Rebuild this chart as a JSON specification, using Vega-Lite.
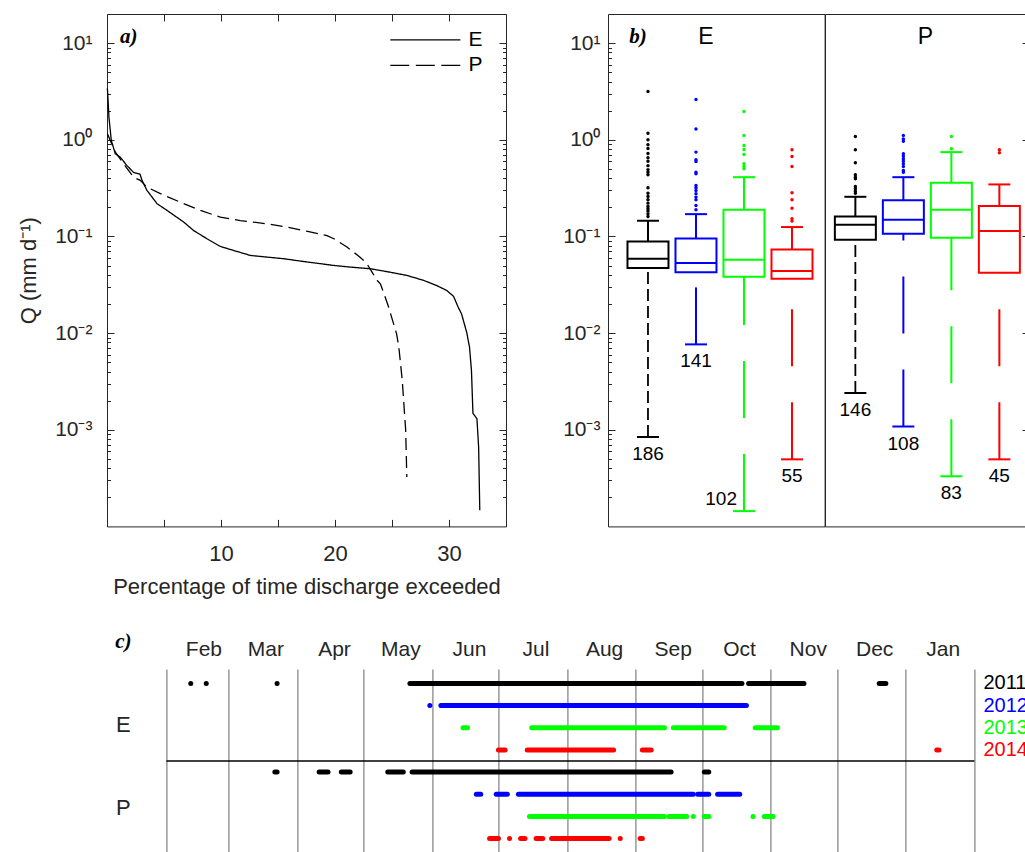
{
  "$schema": "https://vega.github.io/schema/vega-lite/v6.json",
  "padding": {"left": 17, "top": 13, "right": 0, "bottom": 0},
  "config": {
    "view": {"stroke": "#262626", "strokeWidth": 1},
    "tick": {"opacity": 1},
    "axis": {"labelFont": "Liberation Sans", "titleFont": "Liberation Sans", "labelColor": "#262626", "titleColor": "#262626", "tickColor": "#262626", "domain": false, "grid": false, "tickWidth": 1, "labelOverlap": false, "labelFlush": false, "labelBound": false, "titleFontWeight": "normal"},
    "text": {"font": "Liberation Sans", "color": "#262626"}
  },
  "datasets": {
    "fdc": [
      {"site": "E", "pct": 0.02, "q": 3.4}, {"site": "E", "pct": 0.05, "q": 3.2}, {"site": "E", "pct": 0.17, "q": 1.71}, {"site": "E", "pct": 0.38, "q": 0.98}, {"site": "E", "pct": 0.73, "q": 0.716}, {"site": "E", "pct": 1.17, "q": 0.66}, {"site": "E", "pct": 1.75, "q": 0.54}, {"site": "E", "pct": 2.33, "q": 0.46}, {"site": "E", "pct": 2.9, "q": 0.44}, {"site": "E", "pct": 3.07, "q": 0.38}, {"site": "E", "pct": 3.5, "q": 0.3}, {"site": "E", "pct": 4.39, "q": 0.218}, {"site": "E", "pct": 5.26, "q": 0.186}, {"site": "E", "pct": 6.72, "q": 0.141}, {"site": "E", "pct": 7.6, "q": 0.115}, {"site": "E", "pct": 8.77, "q": 0.0946}, {"site": "E", "pct": 9.94, "q": 0.0788}, {"site": "E", "pct": 11.1, "q": 0.0716}, {"site": "E", "pct": 12.57, "q": 0.0636}, {"site": "E", "pct": 14.04, "q": 0.0611}, {"site": "E", "pct": 15.5, "q": 0.0588}, {"site": "E", "pct": 16.96, "q": 0.0556}, {"site": "E", "pct": 19.88, "q": 0.0501}, {"site": "E", "pct": 21.3, "q": 0.0482}, {"site": "E", "pct": 23.1, "q": 0.0463}, {"site": "E", "pct": 24.8, "q": 0.0427}, {"site": "E", "pct": 26.3, "q": 0.0395}, {"site": "E", "pct": 27.77, "q": 0.0351}, {"site": "E", "pct": 28.9, "q": 0.0311}, {"site": "E", "pct": 29.8, "q": 0.0276}, {"site": "E", "pct": 30.4, "q": 0.024}, {"site": "E", "pct": 30.8, "q": 0.0186}, {"site": "E", "pct": 31.1, "q": 0.0158}, {"site": "E", "pct": 31.55, "q": 0.0102}, {"site": "E", "pct": 31.8, "q": 0.00716}, {"site": "E", "pct": 31.97, "q": 0.0041}, {"site": "E", "pct": 32.1, "q": 0.00148}, {"site": "E", "pct": 32.45, "q": 0.0013}, {"site": "E", "pct": 32.6, "q": 0.00066}, {"site": "E", "pct": 32.7, "q": 0.000147},
      {"site": "P", "pct": 0.05, "q": 1.15}, {"site": "P", "pct": 0.29, "q": 0.98}, {"site": "P", "pct": 0.73, "q": 0.745}, {"site": "P", "pct": 1.46, "q": 0.565}, {"site": "P", "pct": 2.33, "q": 0.41}, {"site": "P", "pct": 2.92, "q": 0.38}, {"site": "P", "pct": 3.5, "q": 0.324}, {"site": "P", "pct": 4.68, "q": 0.277}, {"site": "P", "pct": 6.43, "q": 0.226}, {"site": "P", "pct": 8.2, "q": 0.186}, {"site": "P", "pct": 9.94, "q": 0.158}, {"site": "P", "pct": 11.7, "q": 0.146}, {"site": "P", "pct": 14.04, "q": 0.135}, {"site": "P", "pct": 15.8, "q": 0.125}, {"site": "P", "pct": 17.5, "q": 0.1135}, {"site": "P", "pct": 19.3, "q": 0.102}, {"site": "P", "pct": 19.9, "q": 0.0946}, {"site": "P", "pct": 21.05, "q": 0.0776}, {"site": "P", "pct": 22.2, "q": 0.061}, {"site": "P", "pct": 22.8, "q": 0.0522}, {"site": "P", "pct": 23.25, "q": 0.0427}, {"site": "P", "pct": 23.7, "q": 0.035}, {"site": "P", "pct": 23.98, "q": 0.0324}, {"site": "P", "pct": 24.4, "q": 0.0236}, {"site": "P", "pct": 24.7, "q": 0.0186}, {"site": "P", "pct": 25.4, "q": 0.00986}, {"site": "P", "pct": 25.6, "q": 0.00716}, {"site": "P", "pct": 25.9, "q": 0.00324}, {"site": "P", "pct": 26.2, "q": 0.00099}, {"site": "P", "pct": 26.3, "q": 0.000324}
    ],
    "boxes": [
      {"site": "E", "year": "2011", "lo": 0.00084, "q1": 0.047, "med": 0.0588, "q3": 0.0887, "hi": 0.145, "n": 186},
      {"site": "E", "year": "2012", "lo": 0.00764, "q1": 0.0427, "med": 0.053, "q3": 0.0953, "hi": 0.17, "n": 141},
      {"site": "E", "year": "2013", "lo": 0.000144, "q1": 0.0383, "med": 0.0574, "q3": 0.189, "hi": 0.41, "n": 102},
      {"site": "E", "year": "2014", "lo": 0.000494, "q1": 0.0365, "med": 0.0438, "q3": 0.0734, "hi": 0.125, "n": 55},
      {"site": "P", "year": "2011", "lo": 0.0024, "q1": 0.0925, "med": 0.132, "q3": 0.161, "hi": 0.257, "n": 146},
      {"site": "P", "year": "2012", "lo": 0.00108, "q1": 0.1066, "med": 0.149, "q3": 0.237, "hi": 0.41, "n": 108},
      {"site": "P", "year": "2013", "lo": 0.00033, "q1": 0.097, "med": 0.189, "q3": 0.359, "hi": 0.745, "n": 83},
      {"site": "P", "year": "2014", "lo": 0.000494, "q1": 0.0421, "med": 0.1135, "q3": 0.206, "hi": 0.345, "n": 45}
    ],
    "outliers": [
      {"site": "E", "year": "2011", "q": 3.16}, {"site": "E", "year": "2011", "q": 1.17}, {"site": "E", "year": "2011", "q": 1.0}, {"site": "E", "year": "2011", "q": 0.89}, {"site": "E", "year": "2011", "q": 0.81}, {"site": "E", "year": "2011", "q": 0.72}, {"site": "E", "year": "2011", "q": 0.65}, {"site": "E", "year": "2011", "q": 0.6}, {"site": "E", "year": "2011", "q": 0.54}, {"site": "E", "year": "2011", "q": 0.49}, {"site": "E", "year": "2011", "q": 0.46}, {"site": "E", "year": "2011", "q": 0.435}, {"site": "E", "year": "2011", "q": 0.319}, {"site": "E", "year": "2011", "q": 0.28}, {"site": "E", "year": "2011", "q": 0.259}, {"site": "E", "year": "2011", "q": 0.24}, {"site": "E", "year": "2011", "q": 0.221}, {"site": "E", "year": "2011", "q": 0.204}, {"site": "E", "year": "2011", "q": 0.193}, {"site": "E", "year": "2011", "q": 0.183}, {"site": "E", "year": "2011", "q": 0.172}, {"site": "E", "year": "2011", "q": 0.161},
      {"site": "E", "year": "2012", "q": 2.61}, {"site": "E", "year": "2012", "q": 1.29}, {"site": "E", "year": "2012", "q": 0.745}, {"site": "E", "year": "2012", "q": 0.621}, {"site": "E", "year": "2012", "q": 0.597}, {"site": "E", "year": "2012", "q": 0.462}, {"site": "E", "year": "2012", "q": 0.445}, {"site": "E", "year": "2012", "q": 0.337}, {"site": "E", "year": "2012", "q": 0.319}, {"site": "E", "year": "2012", "q": 0.299}, {"site": "E", "year": "2012", "q": 0.276}, {"site": "E", "year": "2012", "q": 0.255}, {"site": "E", "year": "2012", "q": 0.24}, {"site": "E", "year": "2012", "q": 0.209}, {"site": "E", "year": "2012", "q": 0.189},
      {"site": "E", "year": "2013", "q": 1.96}, {"site": "E", "year": "2013", "q": 1.11}, {"site": "E", "year": "2013", "q": 0.873}, {"site": "E", "year": "2013", "q": 0.794}, {"site": "E", "year": "2013", "q": 0.705}, {"site": "E", "year": "2013", "q": 0.565}, {"site": "E", "year": "2013", "q": 0.53}, {"site": "E", "year": "2013", "q": 0.5},
      {"site": "E", "year": "2014", "q": 0.788}, {"site": "E", "year": "2014", "q": 0.672}, {"site": "E", "year": "2014", "q": 0.53}, {"site": "E", "year": "2014", "q": 0.283}, {"site": "E", "year": "2014", "q": 0.24}, {"site": "E", "year": "2014", "q": 0.196}, {"site": "E", "year": "2014", "q": 0.152}, {"site": "E", "year": "2014", "q": 0.144},
      {"site": "P", "year": "2011", "q": 1.08}, {"site": "P", "year": "2011", "q": 0.788}, {"site": "P", "year": "2011", "q": 0.578}, {"site": "P", "year": "2011", "q": 0.435}, {"site": "P", "year": "2011", "q": 0.41}, {"site": "P", "year": "2011", "q": 0.395}, {"site": "P", "year": "2011", "q": 0.329}, {"site": "P", "year": "2011", "q": 0.311}, {"site": "P", "year": "2011", "q": 0.294}, {"site": "P", "year": "2011", "q": 0.28},
      {"site": "P", "year": "2012", "q": 1.11}, {"site": "P", "year": "2012", "q": 1.02}, {"site": "P", "year": "2012", "q": 0.967}, {"site": "P", "year": "2012", "q": 0.716}, {"site": "P", "year": "2012", "q": 0.676}, {"site": "P", "year": "2012", "q": 0.636}, {"site": "P", "year": "2012", "q": 0.601}, {"site": "P", "year": "2012", "q": 0.565}, {"site": "P", "year": "2012", "q": 0.53}, {"site": "P", "year": "2012", "q": 0.482}, {"site": "P", "year": "2012", "q": 0.462},
      {"site": "P", "year": "2013", "q": 1.08}, {"site": "P", "year": "2013", "q": 0.807},
      {"site": "P", "year": "2014", "q": 0.788}, {"site": "P", "year": "2014", "q": 0.734}
    ],
    "flow": [
      {"site": "E", "year": "2011", "track": "E 2011", "start": "2011-02-12", "end": "2011-02-12"},
      {"site": "E", "year": "2011", "track": "E 2011", "start": "2011-02-19", "end": "2011-02-19"},
      {"site": "E", "year": "2011", "track": "E 2011", "start": "2011-03-23", "end": "2011-03-23"},
      {"site": "E", "year": "2011", "track": "E 2011", "start": "2011-05-22", "end": "2011-10-19"},
      {"site": "E", "year": "2011", "track": "E 2011", "start": "2011-10-22", "end": "2011-11-16"},
      {"site": "E", "year": "2011", "track": "E 2011", "start": "2011-12-20", "end": "2011-12-23"},
      {"site": "E", "year": "2012", "track": "E 2012", "start": "2011-05-31", "end": "2011-05-31"},
      {"site": "E", "year": "2012", "track": "E 2012", "start": "2011-06-05", "end": "2011-10-21"},
      {"site": "E", "year": "2013", "track": "E 2013", "start": "2011-06-15", "end": "2011-06-17"},
      {"site": "E", "year": "2013", "track": "E 2013", "start": "2011-07-16", "end": "2011-09-14"},
      {"site": "E", "year": "2013", "track": "E 2013", "start": "2011-09-18", "end": "2011-10-11"},
      {"site": "E", "year": "2013", "track": "E 2013", "start": "2011-10-25", "end": "2011-11-04"},
      {"site": "E", "year": "2014", "track": "E 2014", "start": "2011-07-01", "end": "2011-07-04"},
      {"site": "E", "year": "2014", "track": "E 2014", "start": "2011-07-14", "end": "2011-08-22"},
      {"site": "E", "year": "2014", "track": "E 2014", "start": "2011-09-04", "end": "2011-09-08"},
      {"site": "E", "year": "2014", "track": "E 2014", "start": "2012-01-15", "end": "2012-01-16"},
      {"site": "P", "year": "2011", "track": "P 2011", "start": "2011-03-22", "end": "2011-03-23"},
      {"site": "P", "year": "2011", "track": "P 2011", "start": "2011-04-11", "end": "2011-04-15"},
      {"site": "P", "year": "2011", "track": "P 2011", "start": "2011-04-21", "end": "2011-04-25"},
      {"site": "P", "year": "2011", "track": "P 2011", "start": "2011-05-12", "end": "2011-05-19"},
      {"site": "P", "year": "2011", "track": "P 2011", "start": "2011-05-23", "end": "2011-09-17"},
      {"site": "P", "year": "2011", "track": "P 2011", "start": "2011-10-02", "end": "2011-10-04"},
      {"site": "P", "year": "2012", "track": "P 2012", "start": "2011-06-21", "end": "2011-06-23"},
      {"site": "P", "year": "2012", "track": "P 2012", "start": "2011-06-30", "end": "2011-07-05"},
      {"site": "P", "year": "2012", "track": "P 2012", "start": "2011-07-10", "end": "2011-09-27"},
      {"site": "P", "year": "2012", "track": "P 2012", "start": "2011-09-29", "end": "2011-10-04"},
      {"site": "P", "year": "2012", "track": "P 2012", "start": "2011-10-08", "end": "2011-10-18"},
      {"site": "P", "year": "2013", "track": "P 2013", "start": "2011-07-15", "end": "2011-09-14"},
      {"site": "P", "year": "2013", "track": "P 2013", "start": "2011-09-16", "end": "2011-09-24"},
      {"site": "P", "year": "2013", "track": "P 2013", "start": "2011-09-27", "end": "2011-09-27"},
      {"site": "P", "year": "2013", "track": "P 2013", "start": "2011-10-02", "end": "2011-10-04"},
      {"site": "P", "year": "2013", "track": "P 2013", "start": "2011-10-24", "end": "2011-10-24"},
      {"site": "P", "year": "2013", "track": "P 2013", "start": "2011-10-29", "end": "2011-11-02"},
      {"site": "P", "year": "2014", "track": "P 2014", "start": "2011-06-27", "end": "2011-07-01"},
      {"site": "P", "year": "2014", "track": "P 2014", "start": "2011-07-06", "end": "2011-07-06"},
      {"site": "P", "year": "2014", "track": "P 2014", "start": "2011-07-11", "end": "2011-07-13"},
      {"site": "P", "year": "2014", "track": "P 2014", "start": "2011-07-18", "end": "2011-07-21"},
      {"site": "P", "year": "2014", "track": "P 2014", "start": "2011-07-25", "end": "2011-08-20"},
      {"site": "P", "year": "2014", "track": "P 2014", "start": "2011-08-25", "end": "2011-08-25"},
      {"site": "P", "year": "2014", "track": "P 2014", "start": "2011-09-03", "end": "2011-09-04"}
    ]
  },
  "resolve": {"scale": {"strokeDash": "independent"}, "legend": {"strokeDash": "independent"}},
  "bounds": "flush",
  "spacing": 655,
  "vconcat": [
    {
      "bounds": "flush",
      "spacing": 102,
      "resolve": {"scale": {"strokeDash": "independent"}, "legend": {"strokeDash": "independent"}},
      "hconcat": [
        {
          "width": 399,
          "height": 512.4,
          "resolve": {"axis": {"x": "independent", "y": "independent"}},
          "layer": [
            {
              "data": {"name": "fdc"},
              "mark": {"type": "line", "color": "#000000", "strokeWidth": 1.3},
              "encoding": {
                "x": {"field": "pct", "type": "quantitative", "scale": {"domain": [0, 35], "nice": false, "zero": false},
                  "axis": {"orient": "bottom", "values": [0, 5, 10, 15, 20, 25, 30, 35], "labelExpr": "datum.value % 10 == 0 && datum.value > 0 ? datum.label : ''", "tickSize": -7, "labelPadding": 24, "labelFontSize": 22, "title": "Percentage of time discharge exceeded", "titleFontSize": 22, "titlePadding": 12}},
                "y": {"field": "q", "type": "quantitative", "scale": {"type": "log", "domain": [0.0001, 20], "nice": false},
                  "axis": {"orient": "left", "values": [0.0002, 0.0003, 0.0004, 0.0005, 0.0006, 0.0007, 0.0008, 0.0009, 0.001, 0.002, 0.003, 0.004, 0.005, 0.006, 0.007, 0.008, 0.009, 0.01, 0.02, 0.03, 0.04, 0.05, 0.06, 0.07, 0.08, 0.09, 0.1, 0.2, 0.3, 0.4, 0.5, 0.6, 0.7, 0.8, 0.9, 1, 2, 3, 4, 5, 6, 7, 8, 9, 10],
                    "labelExpr": "abs(log(datum.value)/LN10 - round(log(datum.value)/LN10)) < 0.001 ? '10' + ['⁻⁴','⁻³','⁻²','⁻¹','⁰','¹','²'][round(log(datum.value)/LN10)+4] : ''",
                    "tickSize": {"condition": {"test": "abs(log(datum.value)/LN10 - round(log(datum.value)/LN10)) < 0.001", "value": -7}, "value": -3.5},
                    "labelPadding": 22, "labelFontSize": 21, "title": "Q (mm d⁻¹)", "titleFontSize": 22, "titlePadding": 14}},
                "strokeDash": {"field": "site", "type": "nominal", "scale": {"domain": ["E", "P"], "range": [[1, 0], [12, 6]]}, "legend": null}
              }
            },
            {
              "data": {"name": "fdc"},
              "mark": {"type": "line", "opacity": 0},
              "encoding": {
                "x": {"field": "pct", "type": "quantitative", "axis": {"orient": "top", "values": [0, 5, 10, 15, 20, 25, 30, 35], "labels": false, "tickSize": -7, "title": null}},
                "y": {"field": "q", "type": "quantitative",
                  "axis": {"orient": "right", "values": [0.0002, 0.0003, 0.0004, 0.0005, 0.0006, 0.0007, 0.0008, 0.0009, 0.001, 0.002, 0.003, 0.004, 0.005, 0.006, 0.007, 0.008, 0.009, 0.01, 0.02, 0.03, 0.04, 0.05, 0.06, 0.07, 0.08, 0.09, 0.1, 0.2, 0.3, 0.4, 0.5, 0.6, 0.7, 0.8, 0.9, 1, 2, 3, 4, 5, 6, 7, 8, 9, 10], "labels": false,
                    "tickSize": {"condition": {"test": "abs(log(datum.value)/LN10 - round(log(datum.value)/LN10)) < 0.001", "value": -7}, "value": -3.5}, "title": null}},
                "detail": {"field": "site", "type": "nominal"}
              }
            },
            {
              "data": {"values": [{}]},
              "mark": {"type": "rule", "color": "#000000", "strokeWidth": 1.3},
              "encoding": {
                "x": {"datum": 24.85, "type": "quantitative", "axis": null},
                "x2": {"datum": 31.0},
                "y": {"datum": 10.8, "type": "quantitative", "axis": null}
              }
            },
            {
              "data": {"values": [{}]},
              "mark": {"type": "rule", "color": "#000000", "strokeWidth": 1.3, "strokeDash": [19, 6.5]},
              "encoding": {
                "x": {"datum": 24.85, "type": "quantitative", "axis": null},
                "x2": {"datum": 31.0},
                "y": {"datum": 5.87, "type": "quantitative", "axis": null}
              }
            },
            {
              "data": {"values": [{}]},
              "mark": {"type": "text", "text": "E", "fontSize": 21, "color": "#000000", "align": "left", "baseline": "middle", "dx": 8},
              "encoding": {
                "x": {"datum": 31.0, "type": "quantitative", "axis": null},
                "y": {"datum": 10.8, "type": "quantitative", "axis": null}
              }
            },
            {
              "data": {"values": [{}]},
              "mark": {"type": "text", "text": "P", "fontSize": 21, "color": "#000000", "align": "left", "baseline": "middle", "dx": 8},
              "encoding": {
                "x": {"datum": 31.0, "type": "quantitative", "axis": null},
                "y": {"datum": 5.87, "type": "quantitative", "axis": null}
              }
            },
            {
              "data": {"values": [{}]},
              "mark": {"type": "text", "text": "a)", "font": "Liberation Serif", "fontStyle": "italic", "fontWeight": "bold", "fontSize": 21, "color": "#000000", "align": "left", "baseline": "middle", "dx": 13},
              "encoding": {
                "x": {"datum": 0, "type": "quantitative", "axis": null},
                "y": {"datum": 11.7, "type": "quantitative", "axis": null}
              }
            }
          ]
        },
        {
          "bounds": "flush",
          "spacing": 0,
          "hconcat": [
            {
              "width": 216.6,
              "height": 512.4,
              "encoding": {
                "x": {"field": "year", "type": "nominal", "scale": {"type": "band", "domain": ["2011", "2012", "2013", "2014"], "paddingInner": 0, "paddingOuter": 0.256, "align": 0.65}, "axis": null},
                "color": {"field": "year", "type": "nominal", "scale": {"domain": ["2011", "2012", "2013", "2014"], "range": ["#000000", "#0000ff", "#00ff00", "#ff0000"]}, "legend": null}
              },
              "layer": [
                {
                  "data": {"name": "boxes"},
                  "transform": [{"filter": "datum.site == 'E' && datum.year == '2011'"}],
                  "mark": {"type": "rule", "strokeWidth": 1.8, "strokeDash": [12, 5]},
                  "encoding": {
                    "y": {"field": "lo", "type": "quantitative", "scale": {"type": "log", "domain": [0.0001, 20], "nice": false},
                      "axis": {"orient": "left", "values": [0.0002, 0.0003, 0.0004, 0.0005, 0.0006, 0.0007, 0.0008, 0.0009, 0.001, 0.002, 0.003, 0.004, 0.005, 0.006, 0.007, 0.008, 0.009, 0.01, 0.02, 0.03, 0.04, 0.05, 0.06, 0.07, 0.08, 0.09, 0.1, 0.2, 0.3, 0.4, 0.5, 0.6, 0.7, 0.8, 0.9, 1, 2, 3, 4, 5, 6, 7, 8, 9, 10],
                        "labelExpr": "abs(log(datum.value)/LN10 - round(log(datum.value)/LN10)) < 0.001 ? '10' + ['⁻⁴','⁻³','⁻²','⁻¹','⁰','¹','²'][round(log(datum.value)/LN10)+4] : ''",
                        "tickSize": {"condition": {"test": "abs(log(datum.value)/LN10 - round(log(datum.value)/LN10)) < 0.001", "value": -7}, "value": -3.5},
                        "labelPadding": 15, "labelFontSize": 21, "title": null}},
                    "y2": {"field": "q1"}
                  }
                },
                {
                  "data": {"name": "boxes"},
                  "transform": [{"filter": "datum.site == 'E' && datum.year != '2011'"}],
                  "mark": {"type": "rule", "strokeWidth": 2, "strokeDash": [57, 36]},
                  "encoding": {"y": {"field": "lo", "type": "quantitative"}, "y2": {"field": "q1"}}
                },
                {
                  "data": {"name": "boxes"},
                  "transform": [{"filter": "datum.site == 'E'"}],
                  "mark": {"type": "rule", "strokeWidth": 2},
                  "encoding": {"y": {"field": "q3", "type": "quantitative"}, "y2": {"field": "hi"}}
                },
                {
                  "data": {"name": "boxes"},
                  "transform": [{"filter": "datum.site == 'E'"}],
                  "mark": {"type": "tick", "size": 22, "thickness": 2, "opacity": 1},
                  "encoding": {"y": {"field": "lo", "type": "quantitative"}}
                },
                {
                  "data": {"name": "boxes"},
                  "transform": [{"filter": "datum.site == 'E'"}],
                  "mark": {"type": "tick", "size": 22, "thickness": 2, "opacity": 1},
                  "encoding": {"y": {"field": "hi", "type": "quantitative"}}
                },
                {
                  "data": {"name": "boxes"},
                  "transform": [{"filter": "datum.site == 'E'"}],
                  "mark": {"type": "bar", "size": 41, "filled": false, "strokeWidth": 2, "fill": "white", "fillOpacity": 0},
                  "encoding": {"y": {"field": "q1", "type": "quantitative"}, "y2": {"field": "q3"}}
                },
                {
                  "data": {"name": "boxes"},
                  "transform": [{"filter": "datum.site == 'E'"}],
                  "mark": {"type": "tick", "size": 41, "thickness": 2, "opacity": 1},
                  "encoding": {"y": {"field": "med", "type": "quantitative"}}
                },
                {
                  "data": {"name": "outliers"},
                  "transform": [{"filter": "datum.site == 'E'"}],
                  "mark": {"type": "point", "filled": true, "size": 12, "opacity": 1},
                  "encoding": {"y": {"field": "q", "type": "quantitative"}}
                },
                {
                  "data": {"name": "boxes"},
                  "transform": [{"filter": "datum.site == 'E' && datum.year != '2013'"}],
                  "mark": {"type": "text", "fontSize": 19, "baseline": "middle", "dy": 17},
                  "encoding": {"y": {"field": "lo", "type": "quantitative"}, "text": {"field": "n"}, "color": {"value": "#000000"}}
                },
                {
                  "data": {"name": "boxes"},
                  "transform": [{"filter": "datum.site == 'E' && datum.year == '2013'"}],
                  "mark": {"type": "text", "fontSize": 19, "baseline": "middle", "align": "right", "dx": -7, "dy": -12},
                  "encoding": {"y": {"field": "lo", "type": "quantitative"}, "text": {"field": "n"}, "color": {"value": "#000000"}}
                },
                {
                  "data": {"values": [{}]},
                  "mark": {"type": "text", "text": "E", "fontSize": 23, "baseline": "middle", "dx": 10},
                  "encoding": {"x": {"datum": "2012"}, "y": {"datum": 11.7, "type": "quantitative"}, "color": {"value": "#000000"}}
                },
                {
                  "data": {"values": [{}]},
                  "mark": {"type": "text", "text": "b)", "font": "Liberation Serif", "fontStyle": "italic", "fontWeight": "bold", "fontSize": 21, "baseline": "middle", "dx": -10},
                  "encoding": {"x": {"datum": "2011"}, "y": {"datum": 11.7, "type": "quantitative"}, "color": {"value": "#000000"}}
                }
              ]
            },
            {
              "width": 204,
              "height": 512.4,
              "encoding": {
                "x": {"field": "year", "type": "nominal", "scale": {"type": "band", "domain": ["2011", "2012", "2013", "2014"], "paddingInner": 0, "paddingOuter": 0.125, "align": 0.53}, "axis": null},
                "color": {"field": "year", "type": "nominal", "scale": {"domain": ["2011", "2012", "2013", "2014"], "range": ["#000000", "#0000ff", "#00ff00", "#ff0000"]}, "legend": null}
              },
              "layer": [
                {
                  "data": {"name": "boxes"},
                  "transform": [{"filter": "datum.site == 'P' && datum.year == '2011'"}],
                  "mark": {"type": "rule", "strokeWidth": 1.8, "strokeDash": [12, 5]},
                  "encoding": {
                    "y": {"field": "lo", "type": "quantitative", "scale": {"type": "log", "domain": [0.0001, 20], "nice": false},
                      "axis": {"orient": "right", "values": [0.0002, 0.0003, 0.0004, 0.0005, 0.0006, 0.0007, 0.0008, 0.0009, 0.001, 0.002, 0.003, 0.004, 0.005, 0.006, 0.007, 0.008, 0.009, 0.01, 0.02, 0.03, 0.04, 0.05, 0.06, 0.07, 0.08, 0.09, 0.1, 0.2, 0.3, 0.4, 0.5, 0.6, 0.7, 0.8, 0.9, 1, 2, 3, 4, 5, 6, 7, 8, 9, 10], "labels": false,
                        "tickSize": {"condition": {"test": "abs(log(datum.value)/LN10 - round(log(datum.value)/LN10)) < 0.001", "value": -7}, "value": -3.5}, "title": null}},
                    "y2": {"field": "q1"}
                  }
                },
                {
                  "data": {"name": "boxes"},
                  "transform": [{"filter": "datum.site == 'P' && datum.year != '2011'"}],
                  "mark": {"type": "rule", "strokeWidth": 2, "strokeDash": [57, 36]},
                  "encoding": {"y": {"field": "lo", "type": "quantitative"}, "y2": {"field": "q1"}}
                },
                {
                  "data": {"name": "boxes"},
                  "transform": [{"filter": "datum.site == 'P'"}],
                  "mark": {"type": "rule", "strokeWidth": 2},
                  "encoding": {"y": {"field": "q3", "type": "quantitative"}, "y2": {"field": "hi"}}
                },
                {
                  "data": {"name": "boxes"},
                  "transform": [{"filter": "datum.site == 'P'"}],
                  "mark": {"type": "tick", "size": 22, "thickness": 2, "opacity": 1},
                  "encoding": {"y": {"field": "lo", "type": "quantitative"}}
                },
                {
                  "data": {"name": "boxes"},
                  "transform": [{"filter": "datum.site == 'P'"}],
                  "mark": {"type": "tick", "size": 22, "thickness": 2, "opacity": 1},
                  "encoding": {"y": {"field": "hi", "type": "quantitative"}}
                },
                {
                  "data": {"name": "boxes"},
                  "transform": [{"filter": "datum.site == 'P'"}],
                  "mark": {"type": "bar", "size": 41, "filled": false, "strokeWidth": 2, "fill": "white", "fillOpacity": 0},
                  "encoding": {"y": {"field": "q1", "type": "quantitative"}, "y2": {"field": "q3"}}
                },
                {
                  "data": {"name": "boxes"},
                  "transform": [{"filter": "datum.site == 'P'"}],
                  "mark": {"type": "tick", "size": 41, "thickness": 2, "opacity": 1},
                  "encoding": {"y": {"field": "med", "type": "quantitative"}}
                },
                {
                  "data": {"name": "outliers"},
                  "transform": [{"filter": "datum.site == 'P'"}],
                  "mark": {"type": "point", "filled": true, "size": 12, "opacity": 1},
                  "encoding": {"y": {"field": "q", "type": "quantitative"}}
                },
                {
                  "data": {"name": "boxes"},
                  "transform": [{"filter": "datum.site == 'P'"}],
                  "mark": {"type": "text", "fontSize": 19, "baseline": "middle", "dy": 17},
                  "encoding": {"y": {"field": "lo", "type": "quantitative"}, "text": {"field": "n"}, "color": {"value": "#000000"}}
                },
                {
                  "data": {"values": [{}]},
                  "mark": {"type": "text", "text": "P", "fontSize": 23, "baseline": "middle", "dx": 22},
                  "encoding": {"x": {"datum": "2012"}, "y": {"datum": 11.7, "type": "quantitative"}, "color": {"value": "#000000"}}
                }
              ]
            }
          ]
        }
      ]
    },
    {
      "bounds": "flush",
      "spacing": 26.4,
      "hconcat": [
        {
          "width": 32.6,
          "height": 184,
          "view": {"stroke": null},
          "layer": [
            {
              "data": {"values": [{}]},
              "mark": {"type": "text", "text": "E", "fontSize": 22, "baseline": "middle", "dy": -3},
              "encoding": {"y": {"datum": "E 2013", "type": "nominal", "scale": {"type": "band", "domain": ["E 2011", "E 2012", "E 2013", "E 2014", "P 2011", "P 2012", "P 2013", "P 2014"], "paddingInner": 0, "paddingOuter": 0.15}, "axis": null}}
            },
            {
              "data": {"values": [{}]},
              "mark": {"type": "text", "text": "P", "fontSize": 22, "baseline": "middle", "dy": -8},
              "encoding": {"y": {"datum": "P 2013", "type": "nominal", "axis": null}}
            },
            {
              "data": {"values": [{}]},
              "mark": {"type": "text", "text": "c)", "font": "Liberation Serif", "fontStyle": "italic", "fontWeight": "bold", "fontSize": 21, "baseline": "middle", "dy": -41, "color": "#000000"},
              "encoding": {"y": {"datum": "E 2011", "type": "nominal", "axis": null}}
            }
          ]
        },
        {
          "width": 808,
          "height": 184,
          "view": {"stroke": null},
          "layer": [
            {
              "data": {"name": "flow"},
              "mark": {"type": "rule", "strokeWidth": 5, "strokeCap": "round"},
              "encoding": {
                "x": {"field": "start", "type": "temporal", "scale": {"type": "utc", "domain": [{"year": 2011, "month": 2, "date": 1, "utc": true}, {"year": 2012, "month": 2, "date": 1, "utc": true}], "nice": false},
                  "axis": {"orient": "top", "tickCount": {"interval": "month", "step": 1}, "grid": true, "gridColor": "#7f7f7f", "gridWidth": 1.2, "ticks": false, "labelOffset": 37, "labelPadding": 10, "labelFontSize": 21, "labelExpr": "utcyear(datum.value) == 2012 && utcmonth(datum.value) == 1 ? '' : utcFormat(datum.value, '%b')", "title": null}},
                "x2": {"field": "end"},
                "y": {"field": "track", "type": "nominal", "scale": {"type": "band", "domain": ["E 2011", "E 2012", "E 2013", "E 2014", "P 2011", "P 2012", "P 2013", "P 2014"], "paddingInner": 0, "paddingOuter": 0.15}, "axis": null},
                "color": {"field": "year", "type": "nominal", "scale": {"domain": ["2011", "2012", "2013", "2014"], "range": ["#000000", "#0000ff", "#00ff00", "#ff0000"]}, "legend": null}
              }
            },
            {
              "data": {"values": [{}]},
              "mark": {"type": "rule", "color": "#000000", "strokeWidth": 1.5},
              "encoding": {"y": {"datum": "P 2011", "type": "nominal", "bandPosition": 0}}
            },
            {
              "data": {"name": "flow"},
              "transform": [{"filter": "datum.site == 'E'"}, {"aggregate": [{"op": "count", "as": "days"}], "groupby": ["year", "track"]}],
              "mark": {"type": "text", "fontSize": 20, "align": "left", "baseline": "middle", "dx": 9},
              "encoding": {
                "x": {"datum": {"year": 2012, "month": 2, "date": 1, "utc": true}, "type": "temporal"},
                "y": {"field": "track", "type": "nominal"},
                "text": {"field": "year"},
                "color": {"field": "year", "type": "nominal", "legend": null}
              }
            }
          ]
        }
      ]
    }
  ]
}
